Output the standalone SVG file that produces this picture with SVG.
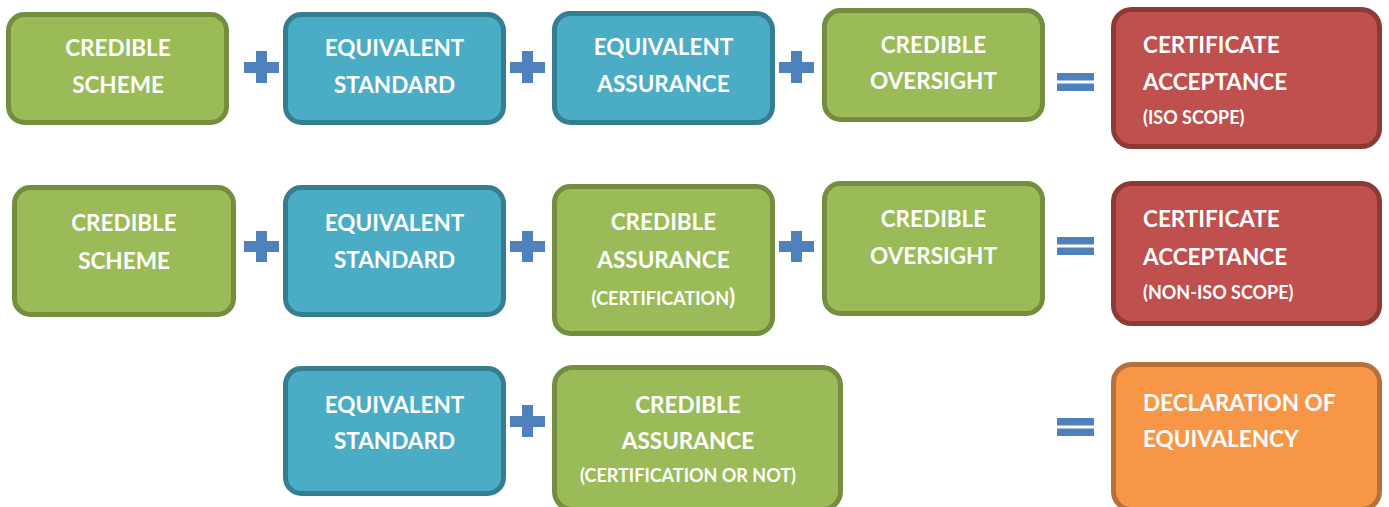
<svg xmlns="http://www.w3.org/2000/svg" width="1389" height="507" viewBox="0 0 1389 507">
<style>
.box{stroke-width:5}
.g{fill:#9BBB59;stroke:#748D3E}
.b{fill:#4BACC6;stroke:#357D91}
.r{fill:#C0504D;stroke:#8D3A37}
.o{fill:#F79646;stroke:#B6703A}
text{font-family:Lato,"Open Sans","Liberation Sans",sans-serif;font-weight:bold;fill:#FFFFFF;font-size:22.5px}
.c{text-anchor:middle}
.s{font-size:18px}
.op{fill:#4F81BD}
</style>
<rect width="1389" height="507" fill="#FFFFFF"/>
<g id="connectors">
  <g class="op">
    <rect x="244" y="62" width="35" height="11"/><rect x="256" y="51" width="11" height="32"/>
    <rect x="510" y="62" width="35" height="11"/><rect x="522" y="51" width="11" height="32"/>
    <rect x="779" y="62" width="35" height="11"/><rect x="791" y="51" width="11" height="32"/>
    <rect x="1057" y="73" width="37" height="7.5"/><rect x="1057" y="83.5" width="37" height="7.5"/>
    <rect x="244" y="241" width="35" height="11"/><rect x="256" y="231" width="11" height="31"/>
    <rect x="510" y="241" width="35" height="11"/><rect x="522" y="231" width="11" height="31"/>
    <rect x="779" y="241" width="35" height="11"/><rect x="791" y="231" width="11" height="31"/>
    <rect x="1057" y="237" width="37" height="7.5"/><rect x="1057" y="247.5" width="37" height="7.5"/>
    <rect x="510" y="416" width="35" height="11"/><rect x="522" y="405" width="11" height="32"/>
    <rect x="1057" y="418" width="37" height="7.5"/><rect x="1057" y="428.5" width="37" height="7.5"/>
  </g>
</g>
<g id="r1-scheme"><rect class="box g" x="8.5" y="14.5" width="218" height="108" rx="16"/>
  <text class="c" x="118" y="56">CREDIBLE</text><text class="c" x="118" y="93">SCHEME</text></g>
<g id="r1-standard"><rect class="box b" x="285.5" y="14.5" width="218" height="108" rx="16"/>
  <text class="c" x="394.5" y="56">EQUIVALENT</text><text class="c" x="394.5" y="93">STANDARD</text></g>
<g id="r1-assurance"><rect class="box b" x="554.5" y="13.5" width="218" height="109" rx="16"/>
  <text class="c" x="663.5" y="55">EQUIVALENT</text><text class="c" x="663.5" y="92">ASSURANCE</text></g>
<g id="r1-oversight"><rect class="box g" x="824.5" y="10.5" width="218" height="109" rx="16"/>
  <text class="c" x="933.5" y="53">CREDIBLE</text><text class="c" x="933.5" y="89">OVERSIGHT</text></g>
<g id="r1-result"><rect class="box r" x="1113.5" y="9.5" width="266" height="137" rx="18"/>
  <text x="1143" y="53">CERTIFICATE</text><text x="1143" y="90">ACCEPTANCE</text><text class="s" x="1143" y="124">(ISO SCOPE)</text></g>

<g id="r2-scheme"><rect class="box g" x="14.5" y="187.5" width="219" height="127" rx="16"/>
  <text class="c" x="124" y="231">CREDIBLE</text><text class="c" x="124" y="269">SCHEME</text></g>
<g id="r2-standard"><rect class="box b" x="285.5" y="187.5" width="218" height="127" rx="16"/>
  <text class="c" x="394.5" y="231">EQUIVALENT</text><text class="c" x="394.5" y="268">STANDARD</text></g>
<g id="r2-assurance"><rect class="box g" x="554.5" y="186.5" width="218" height="147" rx="16"/>
  <text class="c" x="663.5" y="230">CREDIBLE</text><text class="c" x="663.5" y="268">ASSURANCE</text><text class="c s" x="663.5" y="305">(CERTIFICATION<tspan font-size="23">)</tspan></text></g>
<g id="r2-oversight"><rect class="box g" x="824.5" y="183.5" width="218" height="130" rx="16"/>
  <text class="c" x="933.5" y="227">CREDIBLE</text><text class="c" x="933.5" y="264">OVERSIGHT</text></g>
<g id="r2-result"><rect class="box r" x="1113.5" y="183.5" width="266" height="140" rx="18"/>
  <text x="1143" y="227">CERTIFICATE</text><text x="1143" y="265">ACCEPTANCE</text><text class="s" x="1143" y="299">(NON-ISO SCOPE)</text></g>

<g id="r3-standard"><rect class="box b" x="285.5" y="368.5" width="218" height="125" rx="16"/>
  <text class="c" x="394.5" y="413">EQUIVALENT</text><text class="c" x="394.5" y="449">STANDARD</text></g>
<g id="r3-assurance"><rect class="box g" x="554.5" y="367.5" width="286" height="142" rx="18"/>
  <text class="c" x="688" y="413">CREDIBLE</text><text class="c" x="688" y="449">ASSURANCE</text><text class="c s" x="688" y="482">(CERTIFICATION OR NOT)</text></g>
<g id="r3-result"><rect class="box o" x="1113.5" y="364.5" width="266" height="145" rx="18"/>
  <text x="1143" y="411">DECLARATION OF</text><text x="1143" y="447">EQUIVALENCY</text></g>
</svg>
